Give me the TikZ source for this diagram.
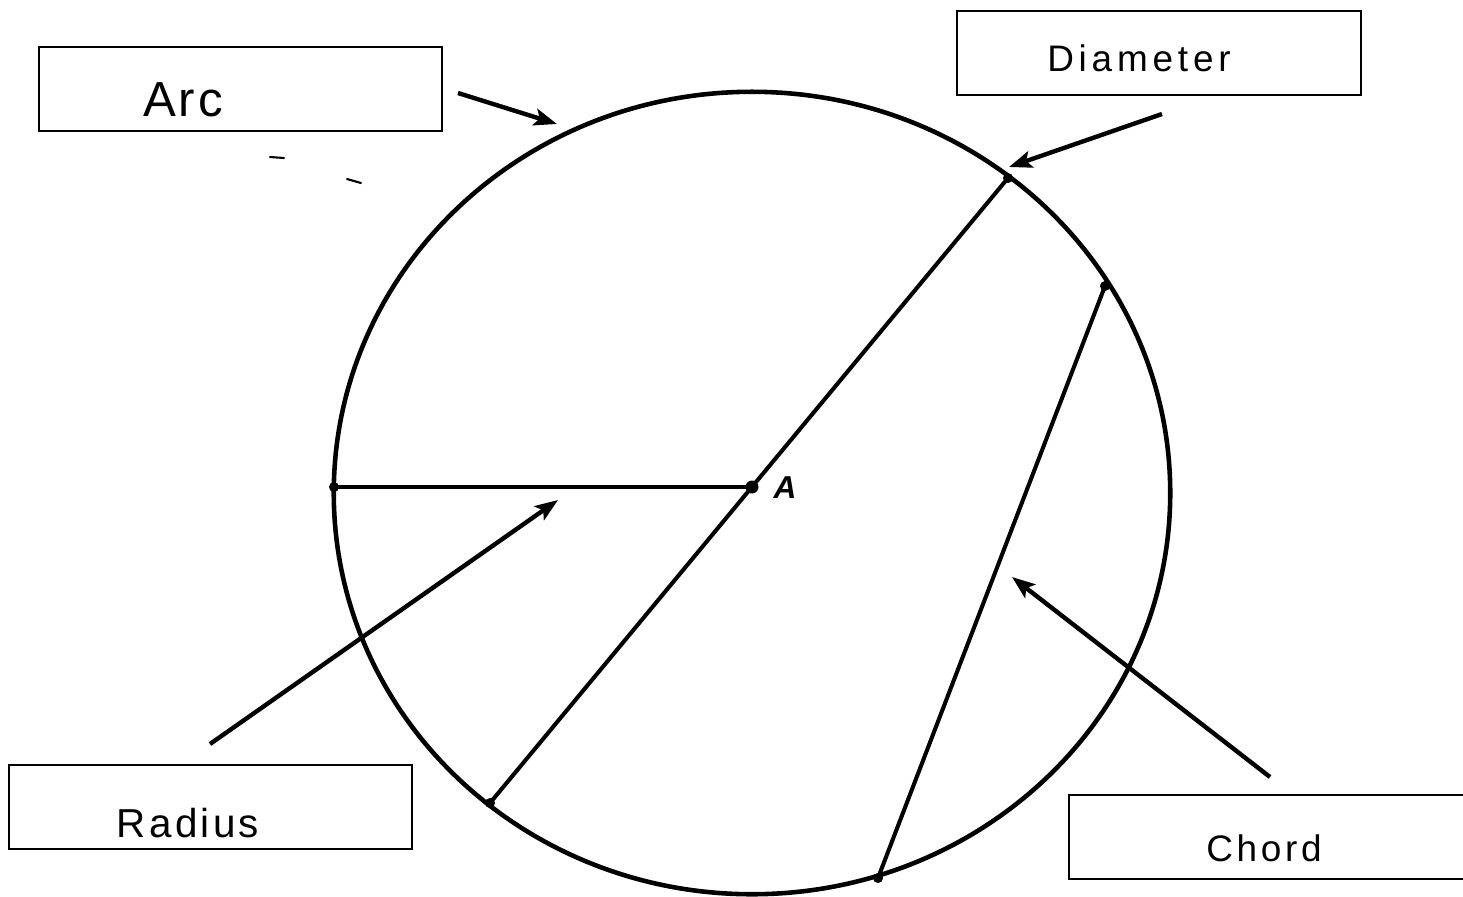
\documentclass[tikz,border=0pt]{standalone}
\usepackage{fontspec}
\setmainfont{Liberation Sans}
\newfontfamily\handA[LetterSpace=6]{Liberation Sans}
\newfontfamily\handD[LetterSpace=13]{Liberation Sans}
\newfontfamily\handR[LetterSpace=8]{Liberation Sans}
\newfontfamily\handC[LetterSpace=10]{Liberation Sans}
\usetikzlibrary{arrows.meta}
\begin{document}
\begin{tikzpicture}[x=0.01cm,y=-0.01cm,
  labelbox/.style={draw=black,line width=0.75pt,rectangle,inner sep=0pt,minimum height=0.84cm},
  handtext/.style={inner sep=0pt,anchor=center},
  pointer/.style={line width=1.25pt,-{Stealth[length=2.3mm,width=1.7mm,inset=0.5mm]}},
  segment/.style={line width=1.15pt},
  dot/.style={fill=black},
  speck/.style={line width=0.6pt,line cap=round}
]
\useasboundingbox (0,0) rectangle (1463,896);
\fill[white] (0,0) rectangle (1463,896);

% circle
\draw[line width=1.3pt] (752,493) ellipse [x radius=4.18cm, y radius=4.01cm];

% points
\coordinate (L) at (334,487);
\coordinate (A) at (752,487);
\coordinate (D1) at (1008,178);
\coordinate (D2) at (490,803);
\coordinate (C1) at (1105,286);
\coordinate (C2) at (878,878);

\draw[segment] (L) -- (A);
\draw[segment] (D1) -- (D2);
\draw[segment] (C1) -- (C2);

\foreach \p in {L,A,D1,D2,C1,C2} \fill[dot] (\p) circle (0.05cm);
\fill[dot] (A) circle (0.065cm);

\node[handtext,font=\bfseries\itshape\fontsize{9}{10}\selectfont] (lblA) at (785,488) {A};

% boxes
\node[labelbox,minimum width=4.03cm] (arcbox) at (240.5,89) {};
\node[labelbox,minimum width=4.04cm] (diabox) at (1159,53) {};
\node[labelbox,minimum width=4.03cm] (radbox) at (210.5,807) {};
\node[labelbox,minimum width=4.10cm] (chobox) at (1274,837) {};

% texts
\node[handtext,font=\handA\fontsize{14}{16}\selectfont] (arctext) at (183,100) {Arc};
\node[handtext,font=\handD\fontsize{10.5}{12}\selectfont] (diatext) at (1139,58) {Diameter};
\node[handtext,font=\handR\fontsize{11.5}{13}\selectfont] (radtext) at (188,823) {Radius};
\node[handtext,font=\handC\fontsize{10.5}{12}\selectfont] (chotext) at (1264,848) {Chord};

% arrow coordinates
\coordinate (arcS) at (458,93);
\coordinate (arcE) at (557,124);
\coordinate (diaS) at (1162,114);
\coordinate (diaE) at (1009,167);
\coordinate (radS) at (210,744);
\coordinate (radE) at (558,500);
\coordinate (choS) at (1270,777);
\coordinate (choE) at (1012,577);

\draw[pointer] (arcS) -- (arcE);
\draw[pointer] (diaS) -- (diaE);
\draw[pointer] (radS) -- (radE);
\draw[pointer] (choS) -- (choE);

% specks
\coordinate (s1a) at (270,157);
\coordinate (s1b) at (284,158);
\coordinate (s2a) at (347,179);
\coordinate (s2b) at (361,183);
\draw[speck] (s1a) -- (s1b);
\draw[speck] (s2a) -- (s2b);
\end{tikzpicture}
\end{document}
